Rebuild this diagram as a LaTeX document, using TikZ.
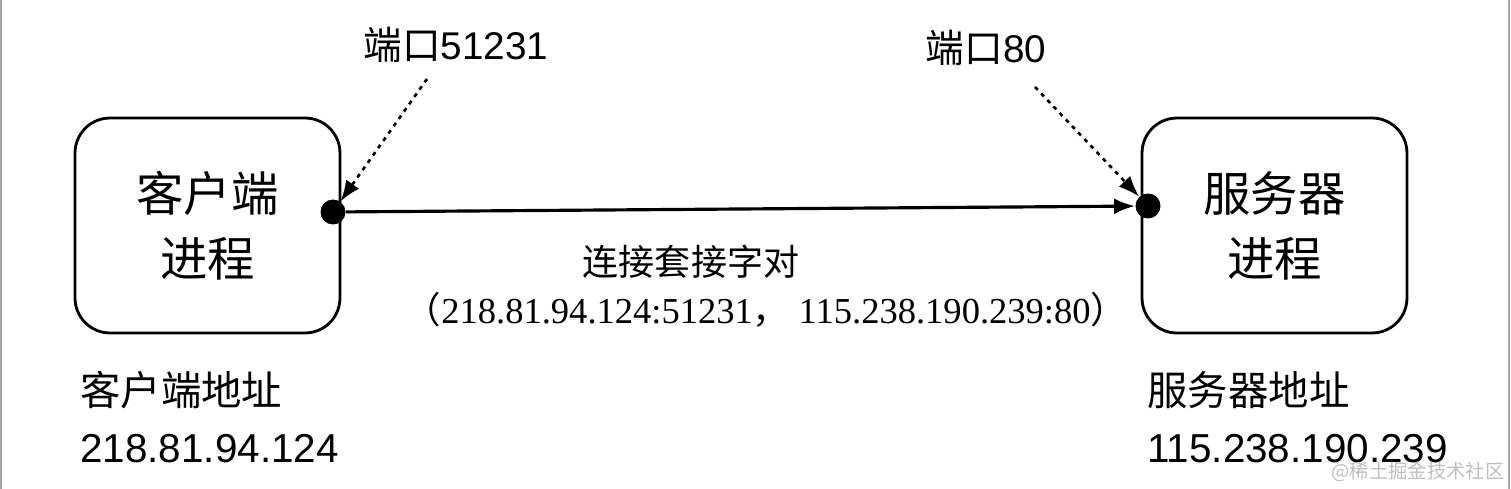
\documentclass[tikz,border=0pt]{standalone}
\usepackage{fontspec}
\setmainfont{Liberation Serif}
\setsansfont{Liberation Sans}
\newfontfamily\cjk{Noto Sans CJK SC}
\usetikzlibrary{arrows.meta, positioning}
\tikzset{
  proc/.style={draw, line width=1.6pt, rounded corners=0.7cm, minimum width=5.3cm, minimum height=4.3cm, align=center, font=\cjk\fontsize{27}{37}\selectfont},
  sock/.style={circle, fill, inner sep=0pt, minimum size=0.5cm},
  port/.style={font=\sffamily\fontsize{22}{26}\selectfont},
  addr/.style={anchor=west, inner sep=0pt, font=\sffamily\fontsize{23}{28}\selectfont},
  portarrow/.style={->, line width=1.5pt, dash pattern=on 2.3pt off 2.8pt},
}
\begin{document}
\begin{tikzpicture}[x=0.02cm, y=-0.02cm, >={Latex[length=12pt,width=9pt]}]
\useasboundingbox (0,0) rectangle (1511,489);
\draw[gray!70, line width=1.5pt] (1,0) -- (1,489) (1509,0) -- (1509,489);
% processes
\node[proc] (client) at (207.5,225.5) {客户端\\进程};
\node[proc] (server) at (1274.5,225.5) {服务器\\进程};
\node[sock] (cdot) at (333,212) {};
\node[sock] (sdot) at (1148,206) {};
% ports
\node[port] (portC) at (456,45) {{\cjk 端口}51231};
\node[port] (portS) at (986,48) {{\cjk 端口}80};
\draw[portarrow] ([xshift=-0.58cm, yshift=-0.2cm]portC.south) -- (cdot);
\draw[portarrow] ([xshift=0.98cm, yshift=-0.3cm]portS.south) -- (sdot);
% connection
\draw[->, line width=1.8pt] (cdot) -- (sdot);
\node[font=\cjk\fontsize{20.5}{24}\selectfont] (pair) at (691,262) {连接套接字对};
\node[font=\fontsize{20.8}{24}\selectfont] (pairval) at (766,310) {{\cjk （}218.81.94.124:51231{\cjk ，}\ 115.238.190.239:80{\cjk ）}};
% addresses
\node[addr] (addrC) at (80,390) {{\cjk 客户端地址}};
\node[addr, below=0.5cm of addrC.south west, anchor=north west] (ipC) {218.81.94.124};
\node[addr] (addrS) at (1147,390) {{\cjk 服务器地址}};
\node[addr, below=0.5cm of addrS.south west, anchor=north west] (ipS) {115.238.190.239};
\node[gray!50, inner sep=0pt, font=\cjk\fontsize{11}{13}\selectfont] (mark) at (1418,472) {@稀土掘金技术社区};
\end{tikzpicture}
\end{document}
